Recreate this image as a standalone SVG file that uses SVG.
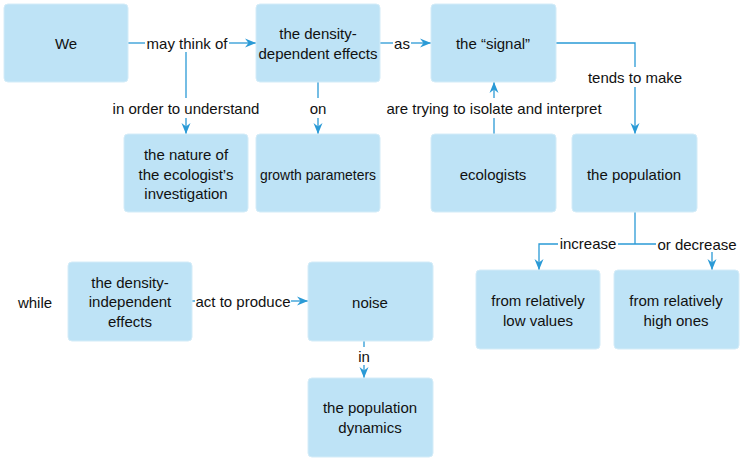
<svg xmlns="http://www.w3.org/2000/svg" width="742" height="459" viewBox="0 0 742 459">
<style>
.n rect{fill:#bee3f6;stroke:#d4ecf8;stroke-width:1}
text{font-family:"Liberation Sans",Arial,sans-serif;font-size:15px;fill:#111;text-anchor:middle;dominant-baseline:central}
.c path{fill:none;stroke:#2a9ad6;stroke-width:1.3}
</style>
<defs>
<marker id="a" markerWidth="12" markerHeight="10" refX="11" refY="5" orient="auto" markerUnits="userSpaceOnUse">
<path d="M0,0.5 L11,5 L0,9.5 L3.5,5 Z" fill="#2a9ad6"/>
</marker>
</defs>
<rect width="742" height="459" fill="#fff"/>
<g class="c">
<path d="M128,43 H145"/>
<path d="M229,43 H256" marker-end="url(#a)"/>
<path d="M186,52 V98"/>
<path d="M186,118 V134" marker-end="url(#a)"/>
<path d="M380,43 H393"/>
<path d="M411,43 H431" marker-end="url(#a)"/>
<path d="M318,82 V98"/>
<path d="M318,118 V134" marker-end="url(#a)"/>
<path d="M556,43 H635 V67"/>
<path d="M635,87 V134" marker-end="url(#a)"/>
<path d="M494,134 V118"/>
<path d="M494,98 V82" marker-end="url(#a)"/>
<path d="M635,212 V244"/>
<path d="M618,244 H656"/>
<path d="M558,244 H539 V270" marker-end="url(#a)"/>
<path d="M712,252 V270" marker-end="url(#a)"/>
<path d="M192,301 H195"/>
<path d="M291,301 H308" marker-end="url(#a)"/>
<path d="M364,341 V347"/>
<path d="M364,365 V378" marker-end="url(#a)"/>
</g>
<g id="labels">
<text x="187" y="43">may think of</text>
<text x="186" y="108">in order to understand</text>
<text x="402" y="43">as</text>
<text x="318" y="108">on</text>
<text x="635" y="77">tends to make</text>
<text x="494" y="108">are trying to isolate and interpret</text>
<text x="588" y="243">increase</text>
<text x="697" y="244">or decrease</text>
<text x="243" y="301">act to produce</text>
<text x="364" y="356">in</text>
<text x="35" y="302">while</text>
</g>
<g id="we" class="n"><rect x="4" y="4" width="124" height="78" rx="4"/><text x="66" y="43">We</text></g>
<g id="dde" class="n"><rect x="256" y="4" width="124" height="78" rx="4"/><text x="318" y="33">the density-</text><text x="318" y="53">dependent effects</text></g>
<g id="signal" class="n"><rect x="431" y="4" width="125" height="78" rx="4"/><text x="493" y="43">the “signal”</text></g>
<g id="nature" class="n"><rect x="124" y="134" width="124" height="78" rx="4"/><text x="186" y="154">the nature of</text><text x="186" y="174">the ecologist’s</text><text x="186" y="193">investigation</text></g>
<g id="growth" class="n"><rect x="256" y="134" width="124" height="78" rx="4"/><text x="318" y="174" textLength="116" lengthAdjust="spacingAndGlyphs">growth parameters</text></g>
<g id="ecologists" class="n"><rect x="431" y="134" width="125" height="78" rx="4"/><text x="493" y="174">ecologists</text></g>
<g id="population" class="n"><rect x="572" y="134" width="125" height="78" rx="4"/><text x="634" y="174">the population</text></g>
<g id="die" class="n"><rect x="68" y="262" width="124" height="79" rx="4"/><text x="130" y="282">the density-</text><text x="130" y="301">independent</text><text x="130" y="321">effects</text></g>
<g id="noise" class="n"><rect x="308" y="262" width="125" height="79" rx="4"/><text x="370" y="302">noise</text></g>
<g id="dynamics" class="n"><rect x="308" y="378" width="125" height="79" rx="4"/><text x="370" y="407">the population</text><text x="370" y="427">dynamics</text></g>
<g id="low" class="n"><rect x="476" y="270" width="124" height="79" rx="4"/><text x="538" y="300">from relatively</text><text x="538" y="320">low values</text></g>
<g id="high" class="n"><rect x="614" y="270" width="125" height="79" rx="4"/><text x="676" y="300">from relatively</text><text x="676" y="320">high ones</text></g>
</svg>
